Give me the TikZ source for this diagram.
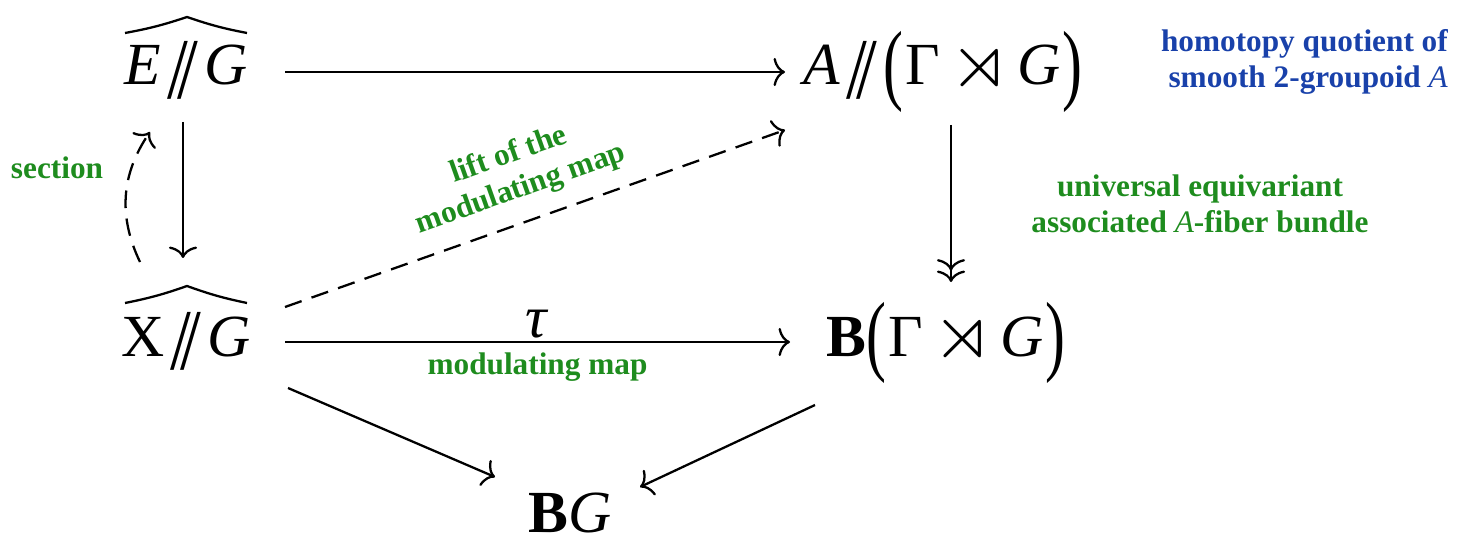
\documentclass[tikz,border=0pt]{standalone}
\usepackage{amssymb}
\usepackage{graphicx}
\usepackage{fontspec}
\setmainfont{Liberation Serif}
\usepackage{xcolor}
\usetikzlibrary{arrows.meta}
\definecolor{notegreen}{RGB}{30,140,30}
\definecolor{noteblue}{RGB}{25,65,170}
\newcommand{\hquot}{\hspace{0.1em}\raisebox{-0.23em}{\scalebox{1.25}[1.45]{/\kern-0.14em/}}\hspace{0.1em}}
\newcommand{\tallL}{\raisebox{-0.15em}{\scalebox{1}[1.5]{(}}\hspace{0.04em}}
\newcommand{\tallR}{\hspace{0.04em}\raisebox{-0.15em}{\scalebox{1}[1.5]{)}}}
\newcommand{\semi}{\hspace{0.16em}\raisebox{-0.04em}{\scalebox{1.3}{$\rtimes$}}\hspace{0.12em}}

\begin{document}
\begin{tikzpicture}[
  >={To[length=6.5pt,width=16pt]},
  obj/.style={anchor=base, inner sep=0pt, font=\fontsize{34}{40}\selectfont},
  note/.style={font=\fontsize{17.8}{20.5}\selectfont\bfseries, text=notegreen,
               align=center},
  arrow/.style={->, line width=1.3pt},
  dasharrow/.style={->, line width=1.3pt, dash pattern=on 10pt off 6pt},
  hat/.style={line width=1.3pt, line join=round}
]
  \useasboundingbox (0,0) rectangle (29.22,10.82);

  \node[obj] (EG) at (3.72,9.12)  {\textit{E}\hquot\textit{G}};
  \node[obj] (AG) at (18.86,9.12) {\textit{A}\hquot\tallL Γ\semi\textit{G}\tallR};
  \node[obj] (XG) at (3.72,3.70)  {X\hquot\textit{G}};
  \node[obj] (BT) at (18.92,3.70) {\textbf{B}\tallL Γ\semi\textit{G}\tallR};
  \node[obj] (BG) at (11.40,0.18) {\textbf{B}\textit{G}};

  % wide hats over the two quotients
  \draw[hat] ([shift={(-1.22,1.04)}]EG.base) to[bend right=4] ([shift={(0.02,1.36)}]EG.base)
    to[bend right=4] ([shift={(1.22,1.04)}]EG.base);
  \draw[hat] ([shift={(-1.22,1.06)}]XG.base) to[bend right=4] ([shift={(0.02,1.40)}]XG.base)
    to[bend right=4] ([shift={(1.22,1.06)}]XG.base);

  \node[note] (sec) at (1.14,7.46) {section};
  \node[note] (univ) at (24.0,6.74) {universal equivariant\\associated {\mdseries\itshape A}-fiber bundle};
  \node[note, text=noteblue, align=right, anchor=east] (hq) at (29.08,9.58)
    {homotopy quotient of\\smooth 2-groupoid {\mdseries\itshape A}};

  \draw[arrow] ([shift={(1.98,0.26)}]EG.base) -- ([shift={(-3.16,0.26)}]AG.base);
  \draw[arrow] ([shift={(-0.06,-0.74)}]EG.base) -- ([shift={(-0.06,1.96)}]XG.base);
  \draw[dasharrow] ([shift={(-0.92,1.88)}]XG.base) to[bend left=30]
    ([shift={(-0.72,-0.94)}]EG.base);
  \draw[dasharrow] ([shift={(1.98,0.98)}]XG.base) --
    node[note, midway, sloped, above, yshift=6pt, xshift=-2pt] {lift of the\\modulating map}
    ([shift={(-3.16,-0.90)}]AG.base);
  \draw[->>, line width=1.3pt] ([shift={(0.16,-0.80)}]AG.base) -- ([shift={(0.10,1.48)}]BT.base);
  \draw[arrow] ([shift={(1.98,0.28)}]XG.base) --
    node[midway, above, yshift=-2pt, font=\fontsize{34}{40}\selectfont] {\textit{τ}}
    node[note, midway, below, yshift=-2pt] {modulating map}
    ([shift={(-3.12,0.28)}]BT.base);
  \draw[arrow] ([shift={(2.04,-0.64)}]XG.base) -- ([shift={(-1.50,1.10)}]BG.base);
  \draw[arrow] ([shift={(-2.62,-0.98)}]BT.base) -- ([shift={(1.40,0.90)}]BG.base);
\end{tikzpicture}
\end{document}
